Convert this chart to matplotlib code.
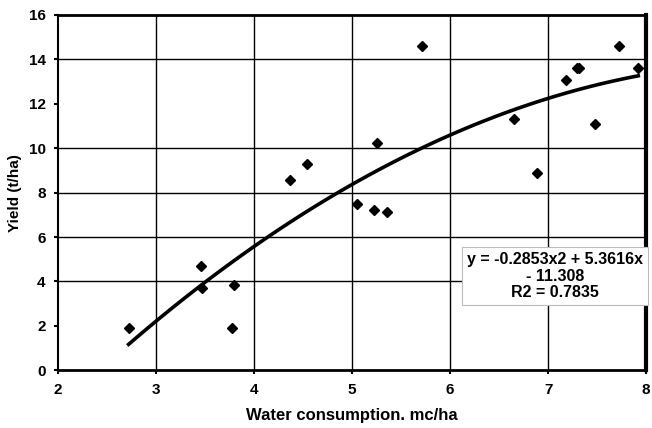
import matplotlib
matplotlib.use('Agg')
import matplotlib.pyplot as plt
import numpy as np

# water consumption (mc/ha) and yield (t/ha)
water = [2.72, 3.46, 3.47, 3.80, 3.78, 4.37, 4.54, 5.05, 5.22, 5.36, 5.25,
         5.71, 6.65, 6.89, 7.18, 7.29, 7.31, 7.48, 7.72, 7.92]
yield_t = [1.90, 4.69, 3.72, 3.85, 1.92, 8.56, 9.28, 7.48, 7.21, 7.12, 10.23,
           14.62, 11.31, 8.90, 13.07, 13.60, 13.62, 11.09, 14.62, 13.62]

# trend line coefficients as printed on the chart
coef = [-0.2853, 5.3616, -11.308]
r2 = 0.7835

plt.rcParams['font.family'] = ['Liberation Sans', 'DejaVu Sans']
plt.rcParams['font.weight'] = 'bold'

fig = plt.figure(figsize=(6.52, 4.28), dpi=100)
ax = fig.add_axes([0.089, 0.135, 0.902, 0.83])

# grid (the 2 and 12 lines are missing in the original)
for xv in [3, 4, 5, 6, 7]:
    ax.axvline(xv, color='black', lw=1.0, zorder=0)
for yv in [4, 6, 8, 10, 14]:
    ax.axhline(yv, color='black', lw=1.0, zorder=0)

ax.plot(water, yield_t, 'D', color='black', markersize=5.5, zorder=3)

xs = np.linspace(min(water), max(water), 100)
ax.plot(xs, np.polyval(coef, xs), color='black', lw=2.6, zorder=2)

ax.set_xlim(2, 8)
ax.set_ylim(0, 16)
ax.set_xticks(range(2, 9))
ax.set_yticks(range(0, 17, 2))
ax.tick_params(labelsize=11, length=3, width=1.5, pad=6)
for lab in ax.get_xticklabels() + ax.get_yticklabels():
    lab.set_fontweight('bold')

ax.spines['left'].set_linewidth(1.5)
ax.spines['bottom'].set_linewidth(2)
ax.spines['top'].set_linewidth(2)
ax.spines['right'].set_linewidth(3)

ax.set_xlabel('Water consumption. mc/ha', fontsize=12, fontweight='bold', labelpad=8)
ax.set_ylabel('Yield (t/ha)', fontsize=11, fontweight='bold')
ax.yaxis.set_label_coords(-0.062, 0.5)

eq = 'y = %.4fx2 + %.4fx\n- %.3f\nR2 = %.4f' % (coef[0], coef[1], -coef[2], r2)
ax.text(0.845, 0.265, eq, transform=ax.transAxes, ha='center', va='center',
        fontsize=11.5, fontweight='bold', linespacing=1.12, zorder=4,
        bbox=dict(boxstyle='square,pad=0.3', fc='white', ec='#bbbbbb', lw=0.8))

fig.savefig('out.png', dpi=100)
